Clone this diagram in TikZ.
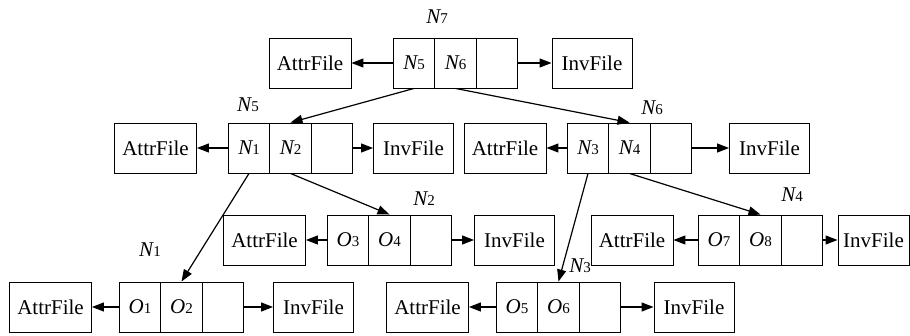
\documentclass[tikz,border=0pt]{standalone}
\usepackage{fontspec}
\setmainfont{Liberation Serif}
\usetikzlibrary{arrows.meta}
\newcommand\nlab[2]{{\itshape #1}{\fontsize{15}{15}\selectfont #2}}
\begin{document}
\begin{tikzpicture}[x=1pt,y=-1pt,
  box/.style={draw, line width=0.9pt, fill=white, minimum height=50pt, inner sep=0pt, font=\fontsize{21}{22}\selectfont},
  attr/.style={box, minimum width=82pt},
  inv/.style={box, minimum width=80pt},
  cell/.style={box, minimum width=41.5pt},
  lbl/.style={inner sep=0pt, font=\fontsize{21}{22}\selectfont},
  arr/.style={line width=1.2pt, -{Triangle[length=12pt,width=9pt]}}]
\useasboundingbox (0,0) rectangle (910,336);
% top: N7
\node[attr] (a7) at (310,63) {AttrFile};
\node[cell] (c7a) at (414,63) {\nlab N5};
\node[cell] (c7b) at (455.5,63) {\nlab N6};
\node[cell] (c7c) at (497,63) {};
\node[inv] (i7) at (592,63) {InvFile};
\node[lbl] (l7) at (437,17) {\nlab N7};
% row 2: N5
\node[attr] (a5) at (155.5,148) {AttrFile};
\node[cell] (c5a) at (249,148) {\nlab N1};
\node[cell] (c5b) at (290.5,148) {\nlab N2};
\node[cell] (c5c) at (332,148) {};
\node[inv] (i5) at (413.5,148) {InvFile};
\node[lbl] (l5) at (248,105) {\nlab N5};
% row 2: N6
\node[attr] (a6) at (505,148) {AttrFile};
\node[cell] (c6a) at (588,148) {\nlab N3};
\node[cell] (c6b) at (629.5,148) {\nlab N4};
\node[cell] (c6c) at (671,148) {};
\node[inv] (i6) at (769.5,148) {InvFile};
\node[lbl] (l6) at (652,108) {\nlab N6};
% row 3: N2
\node[attr] (a2) at (264.5,240) {AttrFile};
\node[cell] (c2a) at (348,240) {\nlab O3};
\node[cell] (c2b) at (389.5,240) {\nlab O4};
\node[cell] (c2c) at (431,240) {};
\node[inv] (i2) at (514.5,240) {InvFile};
\node[lbl] (l2) at (424,199) {\nlab N2};
% row 4: N3 label (under N4 attr box)
\node[lbl] (l3) at (580,266) {\nlab N3};
% row 3: N4
\node[attr] (a4) at (632,240) {AttrFile};
\node[cell] (c4a) at (719,240) {\nlab O7};
\node[cell] (c4b) at (760.5,240) {\nlab O8};
\node[cell] (c4c) at (802,240) {};
\node[inv, minimum width=71pt] (i4) at (873.5,240) {InvFile};
\node[lbl] (l4) at (792,195) {\nlab N4};
% row 4: N1
\node[attr] (a1) at (50.5,307) {AttrFile};
\node[cell] (c1a) at (140,307) {\nlab O1};
\node[cell] (c1b) at (181.5,307) {\nlab O2};
\node[cell] (c1c) at (223,307) {};
\node[inv] (i1) at (313.5,307) {InvFile};
\node[lbl] (l1) at (150,250) {\nlab N1};
% row 4: N3
\node[attr] (a3) at (427.5,307) {AttrFile};
\node[cell] (c3a) at (517,307) {\nlab O5};
\node[cell] (c3b) at (558.5,307) {\nlab O6};
\node[cell] (c3c) at (600,307) {};
\node[inv] (i3) at (694,307) {InvFile};
% horizontal arrows
\foreach \g in {7,5,6,2,4,1,3}{
  \draw[arr] (c\g a.west) -- (a\g.east);
  \draw[arr] (c\g c.east) -- (i\g.west);
}
% tree arrows
\draw[arr] (c7a.south) -- (c5b.north);
\draw[arr] (c7b.south) -- (c6b.north);
\draw[arr] (c5a.south) -- (c1b.north);
\draw[arr] (c5b.south) -- (c2b.north);
\draw[arr] (c6a.south) -- (c3b.north);
\draw[arr] (c6b.south) -- (c4b.north);
\end{tikzpicture}
\end{document}
